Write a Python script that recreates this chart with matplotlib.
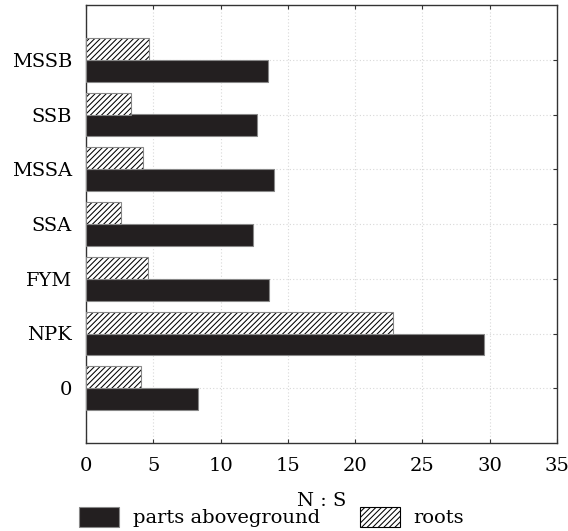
import matplotlib
matplotlib.use("Agg")
import matplotlib.pyplot as plt
import matplotlib.patches as mpatches
import numpy as np

categories = ["0", "NPK", "FYM", "SSA", "MSSA", "SSB", "MSSB"]
aboveground = [8.3, 29.6, 13.6, 12.4, 14.0, 12.7, 13.5]
roots = [4.1, 22.8, 4.6, 2.6, 4.2, 3.35, 4.65]
x_ticks = [0, 5, 10, 15, 20, 25, 30, 35]

plt.rcParams["font.family"] = ["DejaVu Serif"]
plt.rcParams["hatch.linewidth"] = 0.75

fig = plt.figure(figsize=(5.68, 5.31), dpi=100)
ax = fig.add_axes([86 / 568, 88 / 531, (557 - 86) / 568, (443 - 5) / 531])

y = np.arange(len(categories))
h = 0.4
ax.barh(y - h / 2, aboveground, height=h, color="#231f20", edgecolor="#888888",
        linewidth=0.8, zorder=3)
# hatched fill with black hatch lines, then a gray outline on top
ax.barh(y + h / 2, roots, height=h, color="white", edgecolor="black",
        hatch="//////", linewidth=0, zorder=3)
ax.barh(y + h / 2, roots, height=h, fill=False, edgecolor="#888888",
        linewidth=0.8, zorder=4)

ax.set_xlim(0, 35)
ax.set_ylim(-1, len(categories))
ax.set_xticks(x_ticks)
ax.set_xticklabels([str(t) for t in x_ticks], fontsize=14)
ax.set_yticks(y)
ax.set_yticklabels(categories, fontsize=14)
ax.tick_params(direction="in", top=True, right=True, length=3, color="#333333")
ax.tick_params(axis="x", pad=10)
ax.tick_params(axis="y", pad=10)
ax.grid(True, linestyle=(0, (1, 2)), color="#d8d8d8", linewidth=0.8, zorder=0)
for s in ax.spines.values():
    s.set_color("#333333")
    s.set_linewidth(1.0)

ax.set_xlabel("N : S", fontsize=14, labelpad=12)

h_above = mpatches.Patch(facecolor="#231f20", edgecolor="#888888", linewidth=0.8,
                         label="parts aboveground")
h_roots = mpatches.Patch(facecolor="white", edgecolor="black", hatch="//////",
                         linewidth=0.8, label="roots")
fig.legend(handles=[h_above, h_roots], loc="lower center", bbox_to_anchor=(0.478, -0.026),
           ncol=2, frameon=False, fontsize=14, handlelength=2.05, handleheight=1.2,
           columnspacing=2.05, handletextpad=0.7)

fig.savefig("out.png", dpi=100)
